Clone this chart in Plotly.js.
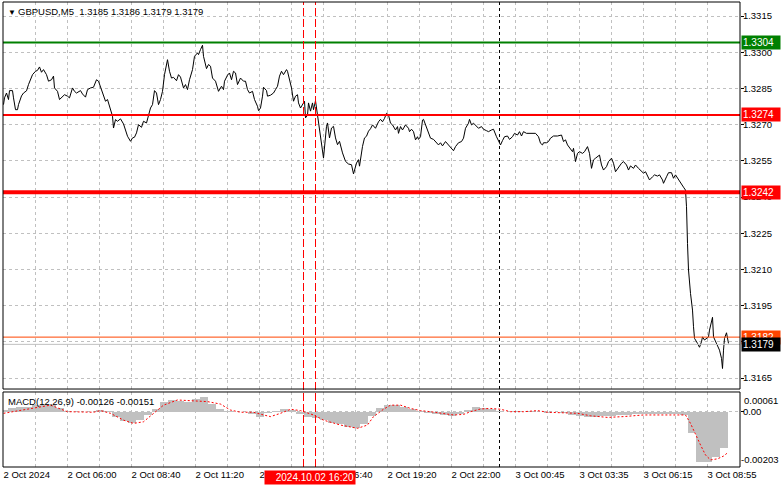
<!DOCTYPE html>
<html><head><meta charset="utf-8">
<script src="https://cdn.plot.ly/plotly-3.0.1.min.js"></script>
<style>html,body{margin:0;padding:0;background:#fff;overflow:hidden}#chart{width:781px;height:489px}</style>
</head><body><div id="chart"></div>
<script>
const chartTitle = "GBPUSD,M5  1.3185 1.3186 1.3179 1.3179";
const macdTitle = "MACD(12,26,9) -0.00126 -0.00151";
const selectedTime = "2024.10.02 16:20";

// bar index (M5 bars from the left edge) and close price
const barIdx = [0,0.5,1.5,2.5,3,4.5,5,6,7,7.5,9,10,11.5,12.5,14.5,16,17,18,19,20,21.5,22.5,24,25,25.5,27,28,29.5,30.5,32,33,34.5,35.5,36.5,37.5,38.5,39.5,41,42,43.5,45,46.5,47.5,49,50,51,52,53,54.5,55,56,57,58.5,60,61,62,62.5,63.5,64.5,65.5,66.5,67.5,69,70,71.5,72.5,73.5,74.5,75.5,76.5,77.5,78.5,79.5,80.5,82,83,84,85,86.5,87.5,88.5,90,91,92,93,94.5,95.5,97,97.5,98.5,99.5,100,101.5,102.5,103.5,104.5,106,107.5,109,110,110.5,112,113,114,115,116,117,118.5,120,121,122,123,124.5,125.5,127,127.5,128.5,129.5,130,131.5,132,133.5,135,136,137,138,139,140,140.5,141.5,142,143,144,145,146,147,147.5,148.5,149.5,150.5,151,152,152.5,153.5,154.5,155,156,157,158,159.5,160,161.5,162,163,164,165,166,167,168,169.5,171,172.5,174,175,176.5,177.5,178,179.5,180.5,181.5,182.5,183.5,184.5,186,187.5,188.5,189.5,190.5,191.5,192.5,193.5,194.5,196,197,197.5,198.5,199.5,201,202.5,203,204,205,206,207,207.5,208.5,209.5,210,211,212.5,213.5,215,216,217.5,218.5,219.5,221,222.5,223.5,225,226,227.5,229,230,231,232.5,233,234,235,236.5,237.5,239,240,241.5,242.5,244,245,246.5,247.5,248.5,249.5,250.5,252,253,254.5,255.5,257,258,259,260,261.5,264.5,266,267.5,268.5,269.5,270,271.5,272.5,273.5,275,277,279,280,281,282,283.5,284.5,285,286,287,288,289.5,290.5,292,293,294,295,296,297,298,299,300,301.5,302.5,304,305,306,307.5,309,310,311.5,312.5,313.5,315,316,317.5,318.5,320,321,322,323,324.5,325.5,327,328,329.5,330,331.5,332.5,334,335,336,337.5,339,340,341,341.5,342,342.5,343.5,344.5,345,345.5,347,348,349,349.5,350.5,351.5,352.5,353,354.5,355,356.5,357.5,358,359,359.5,360,360.5,361.5,362.5];
const closePrice = [1.32783,1.32811,1.32831,1.32804,1.32841,1.32841,1.32811,1.32762,1.32762,1.32783,1.32819,1.32831,1.32840,1.32866,1.32907,1.32921,1.32925,1.32939,1.32917,1.32928,1.32907,1.32880,1.32886,1.32901,1.32852,1.32838,1.32804,1.32815,1.32824,1.32818,1.32811,1.32852,1.32838,1.32831,1.32838,1.32841,1.32827,1.32814,1.32845,1.32852,1.32855,1.32886,1.32880,1.32845,1.32818,1.32797,1.32804,1.32776,1.32735,1.32686,1.32721,1.32714,1.32724,1.32703,1.32673,1.32652,1.32645,1.32631,1.32645,1.32648,1.32666,1.32700,1.32689,1.32714,1.32707,1.32735,1.32769,1.32783,1.32841,1.32831,1.32783,1.32804,1.32838,1.32907,1.32969,1.32921,1.32893,1.32896,1.32882,1.32907,1.32897,1.32852,1.32866,1.32845,1.32886,1.32928,1.32983,1.32997,1.32990,1.33011,1.33029,1.32983,1.32932,1.32949,1.32942,1.32893,1.32880,1.32838,1.32859,1.32845,1.32880,1.32905,1.32914,1.32886,1.32921,1.32914,1.32866,1.32893,1.32880,1.32880,1.32845,1.32831,1.32838,1.32804,1.32776,1.32758,1.32769,1.32818,1.32855,1.32841,1.32818,1.32822,1.32831,1.32845,1.32859,1.32901,1.32921,1.32907,1.32914,1.32928,1.32921,1.32886,1.32852,1.32797,1.32818,1.32824,1.32790,1.32769,1.32783,1.32797,1.32728,1.32739,1.32790,1.32756,1.32790,1.32762,1.32799,1.32735,1.32686,1.32590,1.32562,1.32693,1.32707,1.32645,1.32686,1.32693,1.32645,1.32617,1.32631,1.32583,1.32548,1.32537,1.32534,1.32496,1.32541,1.32555,1.32528,1.32610,1.32645,1.32652,1.32673,1.32683,1.32699,1.32685,1.32712,1.32722,1.32712,1.32726,1.32747,1.32740,1.32706,1.32699,1.32678,1.32692,1.32664,1.32692,1.32678,1.32699,1.32685,1.32671,1.32681,1.32671,1.32637,1.32650,1.32639,1.32650,1.32719,1.32722,1.32699,1.32664,1.32644,1.32639,1.32630,1.32616,1.32625,1.32612,1.32630,1.32616,1.32609,1.32592,1.32609,1.32625,1.32630,1.32644,1.32685,1.32706,1.32722,1.32699,1.32706,1.32695,1.32685,1.32692,1.32681,1.32675,1.32671,1.32678,1.32681,1.32650,1.32634,1.32616,1.32634,1.32650,1.32653,1.32639,1.32650,1.32664,1.32657,1.32671,1.32653,1.32671,1.32664,1.32664,1.32664,1.32650,1.32623,1.32616,1.32625,1.32625,1.32630,1.32644,1.32653,1.32653,1.32657,1.32630,1.32637,1.32616,1.32602,1.32588,1.32602,1.32547,1.32581,1.32588,1.32581,1.32588,1.32609,1.32581,1.32519,1.32554,1.32561,1.32567,1.32574,1.32533,1.32512,1.32526,1.32547,1.32561,1.32540,1.32505,1.32523,1.32540,1.32547,1.32533,1.32512,1.32529,1.32519,1.32533,1.32519,1.32512,1.32499,1.32505,1.32484,1.32471,1.32484,1.32492,1.32487,1.32492,1.32471,1.32457,1.32484,1.32501,1.32501,1.32478,1.32492,1.32471,1.32454,1.32441,1.32429,1.32360,1.32208,1.32098,1.32001,1.31932,1.31863,1.31815,1.31794,1.31778,1.31801,1.31821,1.31808,1.31815,1.31821,1.31849,1.31902,1.31821,1.31794,1.31780,1.31766,1.31732,1.31690,1.31766,1.31815,1.31838,1.31794];

// MACD main (histogram), read every 4 bars
const histBar = [0,4,8,12,16,20,24,28,32,36,40,44,48,52,56,60,64,68,72,76,80,84,88,92,96,100,104,108,112,116,120,124,128,132,136,140,144,148,152,156,160,164,168,172,176,180,184,188,192,196,200,204,208,212,216,220,224,228,232,236,240,244,248,252,256,260,264,268,272,276,280,284,288,292,296,300,304,308,312,316,320,324,328,332,336,340,344,348,352,356,360];
const macdMain = [0.00008,0.00014,0.00016,0.00018,0.00024,0.00028,0.00024,0.00012,0.00002,-0.00002,-0.00002,0.00000,0.00008,0.00004,-0.00018,-0.00034,-0.00043,-0.00030,-0.00012,0.00010,0.00036,0.00043,0.00038,0.00036,0.00048,0.00054,0.00030,0.00010,0.00002,0.00000,-0.00002,-0.00008,-0.00018,-0.00006,0.00004,0.00010,0.00008,-0.00010,-0.00020,-0.00022,-0.00032,-0.00040,-0.00045,-0.00055,-0.00060,-0.00045,-0.00015,0.00015,0.00024,0.00024,0.00018,0.00010,0.00002,-0.00004,-0.00008,-0.00012,-0.00014,-0.00010,0.00006,0.00016,0.00014,0.00010,0.00004,0.00000,0.00002,0.00000,0.00002,-0.00002,-0.00004,-0.00002,-0.00006,-0.00012,-0.00016,-0.00018,-0.00018,-0.00016,-0.00014,-0.00012,-0.00012,-0.00010,-0.00010,-0.00010,-0.00010,-0.00010,-0.00010,-0.00012,-0.00080,-0.00185,-0.00183,-0.00165,-0.00135];

// MACD signal line
const sigBar = [0,15,23.5,32,38.5,45,48.5,53.5,60,65,70,75,80,87,93.5,102,108.5,113.5,118.5,125,130,133.5,138.5,143.5,148.5,155,160,168.5,177,182,185,190,193.5,198.5,203.5,208.5,213.5,218.5,225,230,233.5,238.5,243.5,248.5,253.5,260,267,272,280,287,293.5,302,310,320,330,338.5,341,343.5,346,348.5,351,353.5,357,360,362];
const macdSignal = [-0.00006,0.00012,0.00024,0.00000,-0.00002,-0.00002,0.00004,-0.00006,-0.00031,-0.00043,-0.00037,-0.00006,0.00024,0.00043,0.00040,0.00037,0.00028,0.00006,-0.00002,-0.00002,-0.00012,-0.00018,-0.00006,0.00009,0.00004,-0.00012,-0.00031,-0.00049,-0.00061,-0.00049,-0.00018,0.00009,0.00024,0.00024,0.00012,0.00004,0.00000,-0.00006,-0.00012,-0.00010,0.00000,0.00010,0.00012,0.00009,0.00000,0.00000,0.00004,-0.00002,-0.00004,-0.00006,-0.00015,-0.00021,-0.00018,-0.00012,-0.00012,-0.00010,-0.00012,-0.00043,-0.00086,-0.00122,-0.00159,-0.00177,-0.00173,-0.00163,-0.00151];

const timeTickBars = [0,32,64,96,128,160,192,224,256,288,320,352];
const timeTickLabels = ["2 Oct 2024","2 Oct 06:00","2 Oct 08:40","2 Oct 11:20","2 Oct 14:00","2 Oct 16:40","2 Oct 19:20","2 Oct 22:00","3 Oct 00:45","3 Oct 03:35","3 Oct 06:15","3 Oct 08:55"];
const priceTicks = [1.3165,1.3180,1.3195,1.3210,1.3225,1.3240,1.3255,1.3270,1.3285,1.3300,1.3315];
const priceTickLabels = ["1.3165","","1.3195","1.3210","1.3225","1.3240","1.3255","1.3270","1.3285","1.3300","1.3315"];
const macdScaleLabels = ["0.00061","0.00","-0.00203"];

const levelValues = [1.3304,1.3274,1.3242,1.3182,1.3179];
const levelLabels = ["1.3304","1.3274","1.3242","1.3182","1.3179"];
const redVLineBars = [150,156];
const daySeparatorBars = [248];

// styles
const levelColors = ["#008000","#ff0000","#ff0000","#ff4500","#c0c0c0"];
const levelWidths = [2,2,4,1,1];
const levelBg = ["#008000","#ff0000","#ff0000","#ff4500","#000000"];
const FONT = "Liberation Sans, Arial, sans-serif";
const FS = 9.5;
const GRID = "#c0c0c0";

// grid every 16 bars, labels every 32
const gridBars = [], gridText = [];
for (let b = 0; b <= 368; b += 16) {
  gridBars.push(b);
  const k = timeTickBars.indexOf(b);
  gridText.push(k >= 0 ? timeTickLabels[k] : "");
}

const traces = [
  {type:"bar", x:histBar, y:macdMain, xaxis:"x", yaxis:"y2", width:4,
   marker:{color:"#c0c0c0", line:{width:0}}, hoverinfo:"skip"},
  {type:"scatter", mode:"lines", x:sigBar, y:macdSignal, xaxis:"x", yaxis:"y2",
   line:{color:"#ff0000", width:1, dash:"2px,2px"}, hoverinfo:"skip"},
  {type:"scatter", mode:"lines", x:barIdx, y:closePrice, xaxis:"x", yaxis:"y",
   line:{color:"#000000", width:1}, hoverinfo:"skip"}
];

const shapes = [];
levelValues.forEach((v,i)=>{
  shapes.push({type:"line", xref:"paper", x0:0, x1:1, yref:"y", y0:v, y1:v,
    line:{color:levelColors[i], width:levelWidths[i]}, layer:"above"});
});
redVLineBars.forEach(b=>{
  shapes.push({type:"line", xref:"x", x0:b, x1:b, yref:"paper", y0:0, y1:1,
    line:{color:"#ff0000", width:1, dash:"8px,3px"}, layer:"above"});
});
daySeparatorBars.forEach(b=>{
  shapes.push({type:"line", xref:"x", x0:b, x1:b, yref:"paper", y0:0, y1:1,
    line:{color:"#000000", width:1, dash:"3px,3px"}, layer:"below"});
});
shapes.push({type:"rect", xref:"paper", x0:0, x1:1, yref:"y domain", y0:0, y1:1,
  line:{color:"#000", width:1}, fillcolor:"rgba(0,0,0,0)"});
shapes.push({type:"rect", xref:"paper", x0:0, x1:1, yref:"y2 domain", y0:0, y1:1,
  line:{color:"#000", width:1}, fillcolor:"rgba(0,0,0,0)"});

const annotations = [];
levelValues.forEach((v,i)=>{
  annotations.push({xref:"paper", x:1, xanchor:"left", xshift:1, yref:"y", y:v, yanchor:"middle",
    text:levelLabels[i], showarrow:false, bgcolor:levelBg[i], borderpad:1,
    font:{family:FONT, size:10, color:"#ffffff"}, width:36, align:"left"});
});
annotations.push({xref:"paper", x:0, xanchor:"left", xshift:3, yref:"paper", y:1, yanchor:"top", yshift:-4,
  text:"▼", showarrow:false, font:{family:FONT, size:8, color:"#000"}});
annotations.push({xref:"paper", x:0, xanchor:"left", xshift:13, yref:"paper", y:1, yanchor:"top", yshift:-2,
  text:chartTitle, showarrow:false, font:{family:FONT, size:FS, color:"#000"}});
annotations.push({xref:"paper", x:0, xanchor:"left", xshift:3, yref:"y2 domain", y:1, yanchor:"top", yshift:-2,
  text:macdTitle, showarrow:false, font:{family:FONT, size:FS, color:"#000"}});
annotations.push({xref:"paper", x:1, xanchor:"left", xshift:2, yref:"y2 domain", y:1, yanchor:"top", yshift:-1,
  text:macdScaleLabels[0], showarrow:false, font:{family:FONT, size:FS, color:"#000"}});
annotations.push({xref:"paper", x:1, xanchor:"left", xshift:-1, yref:"y2 domain", y:0, yanchor:"bottom", yshift:0,
  text:macdScaleLabels[2], showarrow:false, font:{family:FONT, size:FS, color:"#000"}});
annotations.push({xref:"x", x:redVLineBars[1], xanchor:"right", xshift:40, yref:"paper", y:0, yanchor:"top", yshift:-3,
  text:selectedTime, showarrow:false, bgcolor:"#ff0000", width:88, align:"right", borderpad:1,
  font:{family:FONT, size:10, color:"#ffffff"}});

const layout = {
  width:781, height:489,
  margin:{l:3, r:41, t:2, b:22},
  paper_bgcolor:"#ffffff", plot_bgcolor:"#ffffff",
  showlegend:false, bargap:0,
  xaxis:{range:[-0.25,368.25], anchor:"y2", tickvals:gridBars, ticktext:gridText, tickangle:0,
    ticklabelposition:"outside right", showgrid:true, gridcolor:GRID, griddash:"3px,3px", gridwidth:1,
    zeroline:false, showline:false, ticks:"", tickfont:{family:FONT, size:FS, color:"#000"}},
  yaxis:{domain:[0.1677,1], range:[1.31605,1.33208], side:"right", anchor:"x",
    tickvals:priceTicks, ticktext:priceTickLabels, showgrid:true, gridcolor:GRID, griddash:"3px,3px",
    zeroline:false, showline:false, ticks:"outside", ticklen:3, tickcolor:"#000", ticklabelstandoff:-3,
    tickfont:{family:FONT, size:FS, color:"#000"}},
  yaxis2:{domain:[0,0.1613], range:[-0.00203,0.000723], side:"right", anchor:"x",
    tickvals:[0], ticktext:[macdScaleLabels[1]], showgrid:true, gridcolor:GRID, griddash:"3px,3px",
    zeroline:false, showline:false, ticks:"outside", ticklen:3, tickcolor:"#000", ticklabelstandoff:-3,
    tickfont:{family:FONT, size:FS, color:"#000"}},
  shapes:shapes, annotations:annotations
};

Plotly.newPlot("chart", traces, layout, {staticPlot:true, displayModeBar:false});
</script>
</body></html>
